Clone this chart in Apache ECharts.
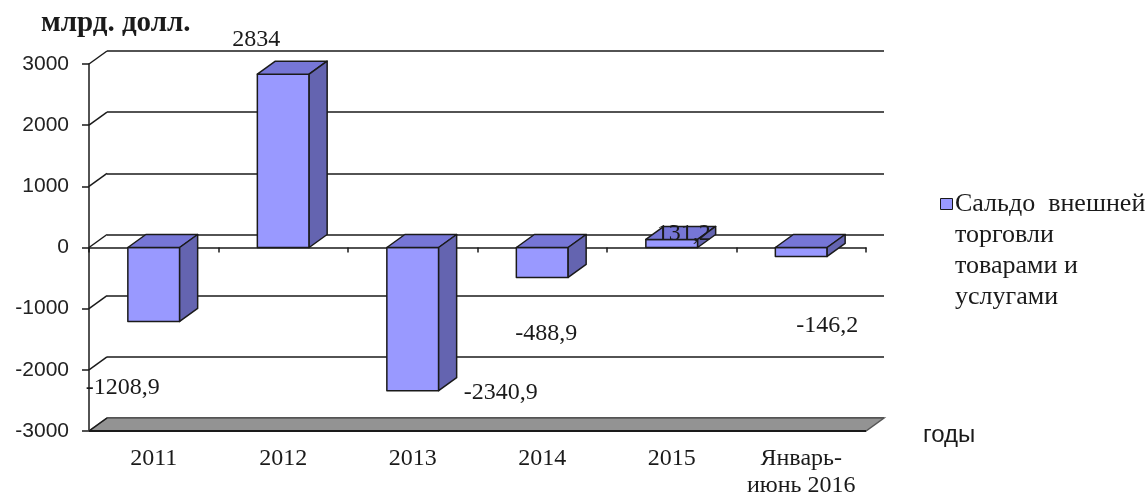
<!DOCTYPE html>
<html>
<head>
<meta charset="utf-8">
<script src="https://cdn.jsdelivr.net/npm/echarts@6/dist/echarts.min.js"></script>
<style>
  html, body { margin: 0; padding: 0; background: #fff; }
  #chart { width: 1147px; height: 496px; }
</style>
</head>
<body>
<div id="chart"></div>
<script>
const categories = ["2011", "2012", "2013", "2014", "2015", "Январь-\nиюнь 2016"];
const values = [-1208.9, 2834, -2340.9, -488.9, 131.2, -146.2];
const valueLabels = ["-1208,9", "2834", "-2340,9", "-488,9", "131,2", "-146,2"];
const yTicks = [-3000, -2000, -1000, 0, 1000, 2000, 3000];
const seriesName = "Сальдо  внешней\nторговли\nтоварами и\nуслугами";

// depth of the 3d box (px) and label nudges, Excel style
const DX = 18, DY = -13;
const labelShift = [[-31, 66], [-27, -34], [88, 2], [4, 56], [12, -6], [26, 69]];

const SERIF = "'Liberation Serif', 'Times New Roman', serif";
const SANS = "'Liberation Sans', Arial, sans-serif";
const INK = "#1a1a1a";

function renderBar(params, api) {
    const i = api.value(0);
    const v = api.value(1);
    const band = api.size([1, 0])[0];
    const w = band * 0.4;
    const hi = api.coord([i, Math.max(v, 0)]);
    const lo = api.coord([i, Math.min(v, 0)]);
    const xl = hi[0] - w / 2, xr = hi[0] + w / 2;
    const yt = hi[1], yb = lo[1];
    const edge = { stroke: INK, lineWidth: 1.5, lineJoin: "round" };
    const at = api.coord([i, v]);
    const sh = labelShift[params.dataIndex];
    return {
        type: "group",
        children: [
            { type: "rect", shape: { x: xl, y: yt, width: w, height: yb - yt },
              style: Object.assign({ fill: "#9999ff" }, edge) },
            { type: "polygon", shape: { points: [[xl, yt], [xr, yt], [xr + DX, yt + DY], [xl + DX, yt + DY]] },
              style: Object.assign({ fill: "#7676d6" }, edge) },
            { type: "polygon", shape: { points: [[xr, yt], [xr + DX, yt + DY], [xr + DX, yb + DY], [xr, yb]] },
              style: Object.assign({ fill: "#6464b0" }, edge) },
            { type: "text", z2: 10, x: at[0] + sh[0], y: at[1] + sh[1],
              style: { text: valueLabels[params.dataIndex], font: "24px " + SERIF,
                       fill: INK, align: "center", verticalAlign: "middle" } },
        ],
    };
}

function renderConnector(params, api) {
    const band = api.size([1, 0])[0];
    const p = api.coord([0, api.value(1)]);
    const x = p[0] - band / 2;
    return { type: "line", shape: { x1: x, y1: p[1], x2: x + DX, y2: p[1] + DY },
             style: { stroke: INK, lineWidth: 1.5 } };
}

function renderFloor(params, api) {
    const band = api.size([1, 0])[0];
    const l = api.coord([0, api.value(1)]);
    const r = api.coord([categories.length - 1, api.value(1)]);
    const x1 = l[0] - band / 2, x2 = r[0] + band / 2, y = l[1];
    return {
        type: "group",
        children: [
            { type: "polygon", shape: { points: [[x1, y], [x2, y], [x2 + DX, y + DY], [x1 + DX, y + DY]] },
              style: { fill: "#939393", stroke: "#555", lineWidth: 1.5 } },
            { type: "line", shape: { x1: x1, y1: y, x2: x2, y2: y },
              style: { stroke: INK, lineWidth: 2 } },
        ],
    };
}

const chart = echarts.init(document.getElementById("chart"), null, { renderer: "canvas" });

chart.setOption({
    animation: false,
    backgroundColor: "#fff",
    title: [
        { text: "млрд. долл.", left: 36, top: 4,
          textStyle: { fontFamily: SERIF, fontWeight: "bold", fontSize: 29, color: INK } },
        { text: "годы", left: 918, top: 418,
          textStyle: { fontFamily: SANS, fontWeight: "normal", fontSize: 24, color: INK } },
    ],
    // legend drawn by hand: Excel puts the key beside the first line of a wrapped name
    graphic: [
        { type: "rect", left: 940, top: 198, shape: { width: 12, height: 11 },
          style: { fill: "#9999ff", stroke: INK, lineWidth: 1 } },
        { type: "text", left: 955, top: 189,
          style: { text: seriesName, font: "26px " + SERIF, fill: INK, lineHeight: 31 } },
    ],
    grid: [
        { left: 89, right: 281, top: 64, bottom: 65, containLabel: false, outerBoundsMode: "none" },
        { left: 89 + DX, right: 281 - DX, top: 64 + DY, bottom: 65 - DY,
          containLabel: false, outerBoundsMode: "none" },
    ],
    xAxis: [
        { type: "category", gridIndex: 0, data: categories, position: "bottom",
          axisLine: { onZero: true, lineStyle: { color: INK, width: 1.5 } },
          axisTick: { show: true, length: 5, lineStyle: { color: INK, width: 1.5 } },
          axisLabel: { show: false }, splitLine: { show: false } },
        { type: "category", gridIndex: 0, data: categories, position: "bottom",
          axisLine: { show: false, onZero: false }, axisTick: { show: false },
          axisLabel: { interval: 0, margin: 14, fontFamily: SERIF, fontSize: 24, color: INK, lineHeight: 27 },
          splitLine: { show: false } },
        { type: "category", gridIndex: 1, data: categories, show: false },
    ],
    yAxis: [
        { type: "value", gridIndex: 0, min: -3000, max: 3000, interval: 1000,
          axisLine: { show: true, lineStyle: { color: INK, width: 1.5 } },
          axisTick: { show: true, length: 7, lineStyle: { color: INK, width: 1.5 } },
          axisLabel: { margin: 20, fontFamily: SANS, fontSize: 21, color: "#222",
                       formatter: (v) => String(v) },
          splitLine: { show: false } },
        { type: "value", gridIndex: 1, min: -3000, max: 3000, interval: 1000,
          axisLine: { show: false }, axisTick: { show: false }, axisLabel: { show: false },
          splitLine: { show: true, lineStyle: { color: INK, width: 1.5 } } },
    ],
    series: [
        { type: "custom", name: "floor", xAxisIndex: 0, yAxisIndex: 0, z: 1,
          renderItem: renderFloor, data: [[0, yTicks[0]]], silent: true },
        { type: "custom", name: "connectors", xAxisIndex: 0, yAxisIndex: 0, z: 2,
          renderItem: renderConnector, data: yTicks.map((v) => [0, v]), silent: true },
        { type: "custom", name: seriesName, xAxisIndex: 0, yAxisIndex: 0, z: 3,
          renderItem: renderBar, data: values.map((v, i) => [i, v]) },
    ],
});
</script>
</body>
</html>
